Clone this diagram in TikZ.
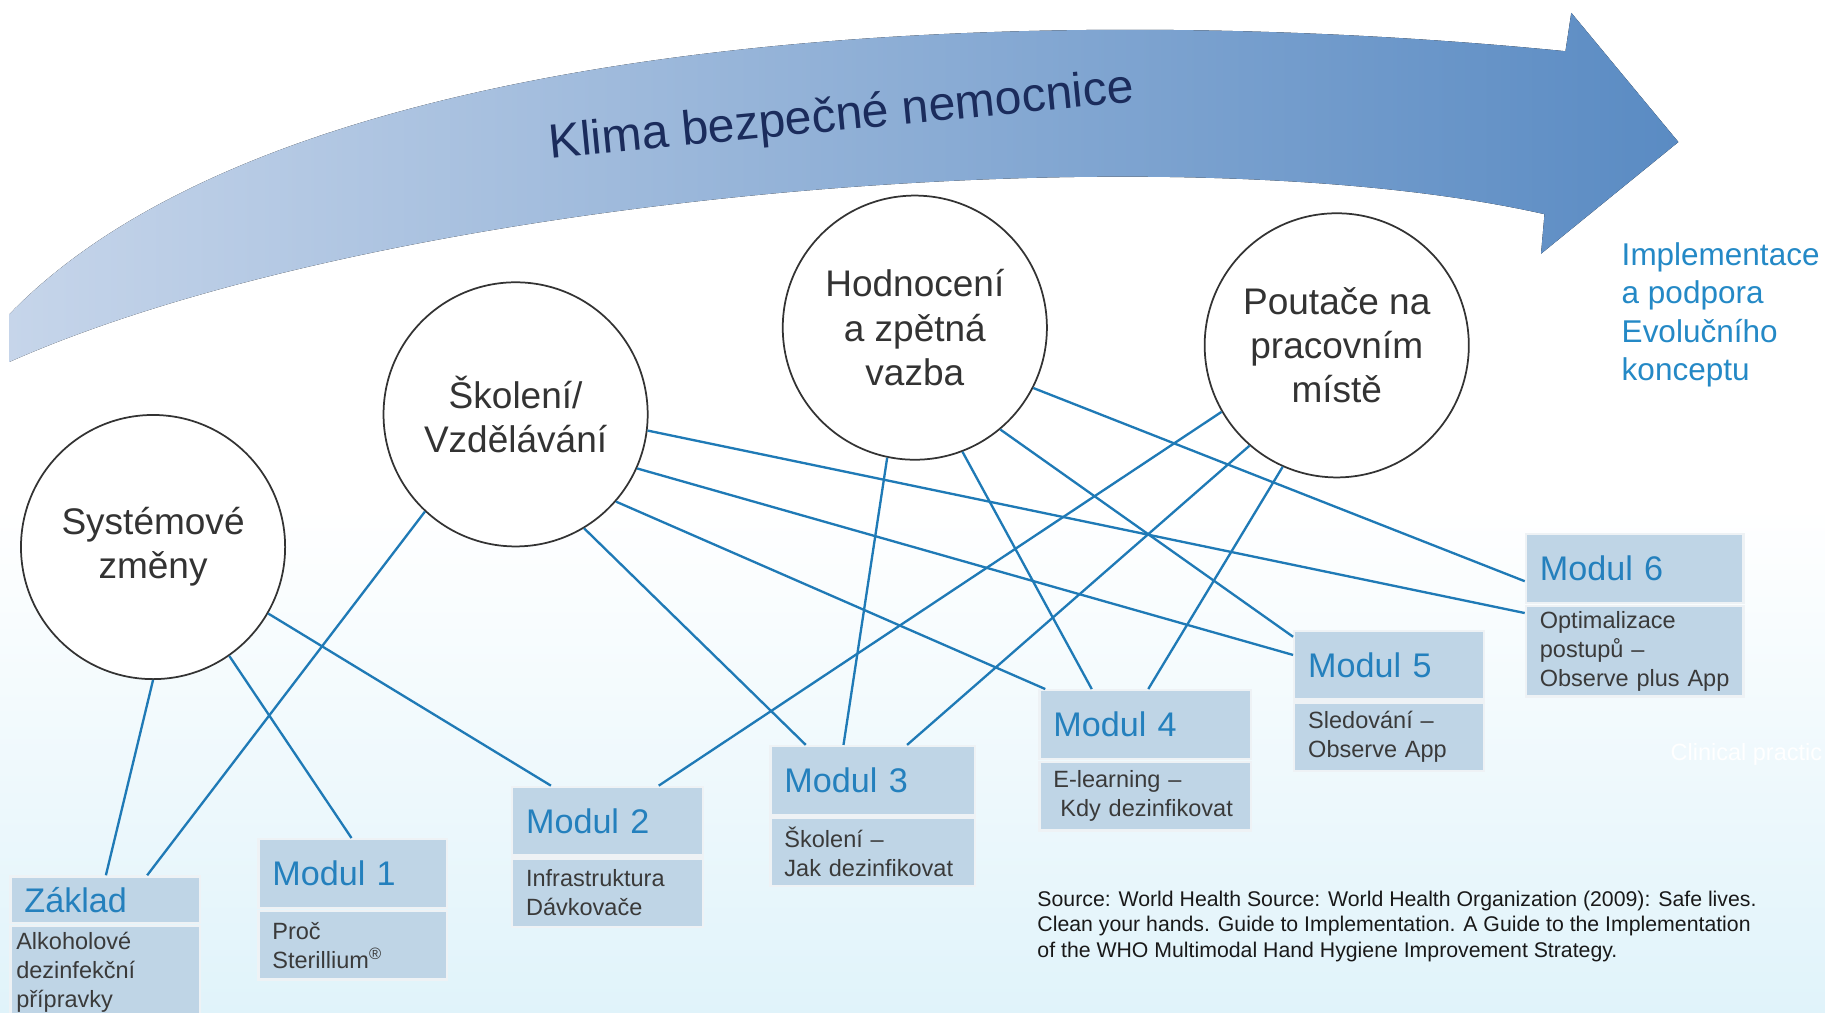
\documentclass[tikz,border=0pt]{standalone}
\usepackage{fontspec}
\setmainfont{Liberation Sans}
\usepackage{tikz}
\usetikzlibrary{positioning,calc}

\definecolor{linkblue}{HTML}{1F7AB6}
\definecolor{modblue}{HTML}{2480BD}
\definecolor{implblue}{HTML}{2489C6}
\definecolor{boxfill}{HTML}{BFD5E6}
\definecolor{boxedge}{HTML}{EEF2F5}
\definecolor{circedge}{HTML}{333333}
\definecolor{circtext}{HTML}{333333}
\definecolor{bodytext}{HTML}{3A3A3A}
\definecolor{navy}{HTML}{1B2C5C}
\definecolor{arrowlight}{HTML}{C6D5EA}
\definecolor{arrowdark}{HTML}{5A8BC3}
\definecolor{bgcyan}{HTML}{E0F3FA}

\tikzset{
    topic/.style={
           circle,
           draw=circedge, line width=0.03cm,
           fill=white,
           minimum size=4.54cm,
           inner sep=0pt,
           align=center,
           text=circtext,
           font=\fontsize{18.1}{21.6}\selectfont,
           },
    modtitle/.style={
           rectangle,
           draw=boxedge, line width=0.04cm,
           fill=boxfill,
           text=modblue,
           font=\fontsize{16.7}{19}\selectfont,
           anchor=north west,
           inner xsep=0.24cm, inner ysep=0pt,
           minimum height=1.18cm,
           text width=#1,
           align=left,
           },
    modbody/.style={
           rectangle,
           draw=boxedge, line width=0.04cm,
           fill=boxfill,
           text=bodytext,
           font=\fontsize{11.5}{14.2}\selectfont,
           inner xsep=0.24cm, inner ysep=0pt,
           minimum height=1.18cm,
           text width=#1,
           align=left,
           },
    modlink/.style={draw=linkblue, line width=0.04cm},
}

\begin{document}
\begin{tikzpicture}[x=0.02cm,y=-0.02cm]
  \useasboundingbox (0,0) rectangle (1568,870);
  \fill[top color=white, bottom color=bgcyan, middle color=white] (0,0) rectangle (1568,870);

  % big arrow
  \fill[left color=arrowlight, right color=arrowdark]
    (8,270) .. controls (250,20) and (900,0) .. (1345,44)
    -- (1350,11) -- (1442,122) -- (1324,218) -- (1327,184)
    .. controls (1000,110) and (330,168) .. (8,311) -- cycle;
  \node[rotate=5.5, text=navy, font=\fontsize{23.5}{28}\selectfont] (climate) at (723,101) {Klima bezpečné nemocnice};

  \node[anchor=north west, inner sep=0pt, align=left, text=implblue,
        font=\fontsize{15.4}{18.8}\selectfont] (impl) at (1393,208)
        {Implementace\\a podpora\\Evolučního\\konceptu};

  \node[topic] (sys)  at (131.5,470)  {Systémové\\změny};
  \node[topic] (skol) at (443,356)    {Školení/\\Vzdělávání};
  \node[topic] (hod)  at (786,281.5)  {Hodnocení\\a zpětná\\vazba};
  \node[topic] (pout) at (1148.5,296.7) {Poutače na\\pracovním\\místě};

  \node[modtitle=2.78cm, minimum height=0.8cm] (zaklad) at (8,752) {Základ};
  \node[modbody=3.06cm, inner xsep=0.1cm, minimum height=1.6cm, below=0.01cm of zaklad] (zakladb) {Alkoholové\\dezinfekční\\přípravky};
  \node[modtitle=2.76cm] (m1) at (221,720) {Modul 1};
  \node[modbody=2.76cm, below=0.01cm of m1] (m1b) {Proč\\Sterillium\textsuperscript{®}};
  \node[modtitle=2.80cm] (m2) at (439,675) {Modul 2};
  \node[modbody=2.80cm, below=0.01cm of m2] (m2b) {Infrastruktura\\Dávkovače};
  \node[modtitle=3.04cm] (m3) at (661,640) {Modul 3};
  \node[modbody=3.04cm, below=0.01cm of m3] (m3b) {Školení –\\Jak dezinfikovat};
  \node[modtitle=3.16cm] (m4) at (892,592) {Modul 4};
  \node[modbody=3.16cm, below=0.01cm of m4] (m4b) {E-learning –\\\hspace*{0.12cm}Kdy dezinfikovat};
  \node[modtitle=2.78cm] (m5) at (1111,541) {Modul 5};
  \node[modbody=2.78cm, below=0.01cm of m5] (m5b) {Sledování –\\Observe App};
  \node[modtitle=3.26cm] (m6) at (1310,458) {Modul 6};
  \node[modbody=3.26cm, minimum height=1.56cm, below=0.01cm of m6] (m6b) {Optimalizace\\postupů –\\Observe plus App};

  \node[anchor=west, inner sep=0pt, text=white, font=\fontsize{11.5}{14}\selectfont] (clinic) at (1435,648) {Clinical practic};

  \node[anchor=north west, inner sep=0pt, align=left, text=black!90,
        font=\fontsize{10.4}{12.5}\selectfont] (source) at (891,765)
        {Source: World Health Source: World Health Organization (2009): Safe lives.\\
         Clean your hands. Guide to Implementation. A Guide to the Implementation\\
         of the WHO Multimodal Hand Hygiene Improvement Strategy.};

  % connectors
  \draw[modlink] (sys.-90)     -- ($(zaklad.north west)!0.503!(zaklad.north east)$);
  \draw[modlink] (sys.-55.4)   -- ($(m1.north west)!0.494!(m1.north east)$);
  \draw[modlink] (sys.-30.8)   -- ($(m2.north west)!0.207!(m2.north east)$);
  \draw[modlink] (skol.-133.2) -- ($(zaklad.north west)!0.718!(zaklad.north east)$);
  \draw[modlink] (skol.-59.7)  -- ($(m3.north west)!0.176!(m3.north east)$);
  \draw[modlink] (skol.-41.6)  -- ($(m4.north west)!0.033!(m4.north east)$);
  \draw[modlink] (skol.-24.4)  -- ($(m5.north west)!0.356!(m5.south west)$);
  \draw[modlink] (skol.-7.6)   -- ($(m6b.north west)!0.09!(m6b.south west)$);
  \draw[modlink] (hod.-102.5)  -- ($(m3.north west)!0.358!(m3.north east)$);
  \draw[modlink] (hod.-69.6)   -- ($(m4.north west)!0.25!(m4.north east)$);
  \draw[modlink] (hod.-50.9)   -- ($(m5.north west)!0.10!(m5.south west)$);
  \draw[modlink] (hod.-27.2)   -- ($(m6.north west)!0.678!(m6.south west)$);
  \draw[modlink] (pout.-150)   -- ($(m2.north west)!0.765!(m2.north east)$);
  \draw[modlink] (pout.-131.8) -- ($(m3.north west)!0.665!(m3.north east)$);
  \draw[modlink] (pout.-114.7) -- ($(m4.north west)!0.514!(m4.north east)$);
\end{tikzpicture}
\end{document}
